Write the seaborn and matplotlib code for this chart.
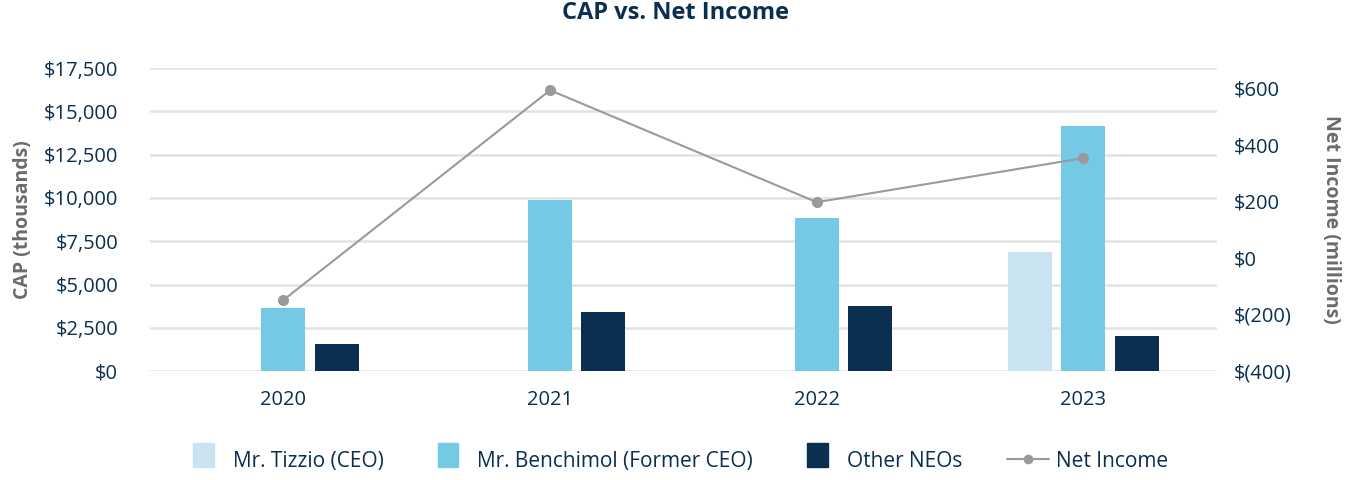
import pandas as pd
import matplotlib.pyplot as plt
import seaborn as sns
from matplotlib.ticker import FuncFormatter
from matplotlib.patches import Patch, Rectangle
from matplotlib.lines import Line2D
from matplotlib.legend_handler import HandlerPatch

# Data
years = ["2020", "2021", "2022", "2023"]
tizzio_cap = [0, 0, 0, 6870]
benchimol_cap = [3640, 9880, 8840, 14150]
other_neos_cap = [1560, 3410, 3750, 2020]
net_income = [-149, 593, 197, 353]

series_names = ["Mr. Tizzio (CEO)", "Mr. Benchimol (Former CEO)", "Other NEOs"]
colors = ["#c9e4f0", "#74c9e5", "#0b2f50"]
navy = "#0b2f50"
grey_label = "#6b6b6b"
line_color = "#9a9a9a"

sns.set_theme(style="white")
plt.rcParams["font.family"] = ["Open Sans", "DejaVu Sans"]

# long format for seaborn
rows = []
for name, vals in zip(series_names, [tizzio_cap, benchimol_cap, other_neos_cap]):
    for y, v in zip(years, vals):
        rows.append({"Year": y, "Series": name, "CAP": v})
df = pd.DataFrame(rows)

fig, ax = plt.subplots(figsize=(13.52, 4.8), dpi=100)
fig.subplots_adjust(left=0.111, right=0.900, top=0.858, bottom=0.227)

sns.barplot(data=df, x="Year", y="CAP", hue="Series", hue_order=series_names,
            palette=colors, saturation=1, width=0.6, gap=0.175, linewidth=0,
            ax=ax, legend=False, errorbar=None)

ax.set_ylim(0, 17500)
ax.set_yticks(range(0, 17501, 2500))
ax.yaxis.set_major_formatter(FuncFormatter(lambda v, p: f"${v:,.0f}"))
ax.set_xlim(-0.5, 3.5)
ax.grid(axis="y", color="#e3e3e3", linewidth=1.8)
ax.set_axisbelow(True)
for s in ax.spines.values():
    s.set_visible(False)
ax.tick_params(axis="both", length=0, labelsize=14.5, labelcolor=navy)
ax.tick_params(axis="y", pad=23)
ax.tick_params(axis="x", pad=14)
ax.set_xlabel("")
ax.set_ylabel("CAP (thousands)", fontsize=14, fontweight="bold", color=grey_label, labelpad=8)

# net income on secondary axis
ax2 = ax.twinx()
ni = pd.DataFrame({"x": range(len(years)), "ni": net_income})
sns.lineplot(data=ni, x="x", y="ni", ax=ax2, color=line_color, marker="o",
             markersize=8, markeredgewidth=0, linewidth=1.5)
ax2.set_ylim(-400, 671)
ax2.set_yticks(range(-400, 601, 200))
ax2.yaxis.set_major_formatter(FuncFormatter(
    lambda v, p: f"${v:,.0f}" if v >= 0 else f"$({abs(v):,.0f})"))
for s in ax2.spines.values():
    s.set_visible(False)
ax2.tick_params(axis="y", length=0, labelsize=14.5, labelcolor=navy, pad=12)
ax2.set_xlabel("")
ax2.set_ylabel("Net Income (millions)", fontsize=14, fontweight="bold",
               color=grey_label, rotation=270, labelpad=36)
ax2.grid(False)

fig.suptitle("CAP vs. Net Income", fontsize=17, fontweight="bold", color=navy, y=0.998)


# narrow square patches in the legend
def small_square(legend, orig_handle, xdescent, ydescent, width, height, fontsize):
    w = width * 0.5
    h = height * 1.3
    return Rectangle((xdescent + width * 0.22, ydescent + (height - h) / 2), w, h)


handles = [Patch(color=c, label=n) for c, n in zip(colors, series_names)]
handles.append(Line2D([0], [0], color=line_color, marker="o", markersize=7,
                      markeredgewidth=0, linewidth=1.5, label="Net Income"))
leg = fig.legend(handles=handles, loc="lower center", ncol=4, frameon=False,
                 bbox_to_anchor=(0.5, -0.022), fontsize=15, columnspacing=2.15,
                 handlelength=2.0, handleheight=1.0, handletextpad=0.35,
                 handler_map={Patch: HandlerPatch(patch_func=small_square)})
for t in leg.get_texts():
    t.set_color(navy)

plt.savefig("out.png", dpi=100)
